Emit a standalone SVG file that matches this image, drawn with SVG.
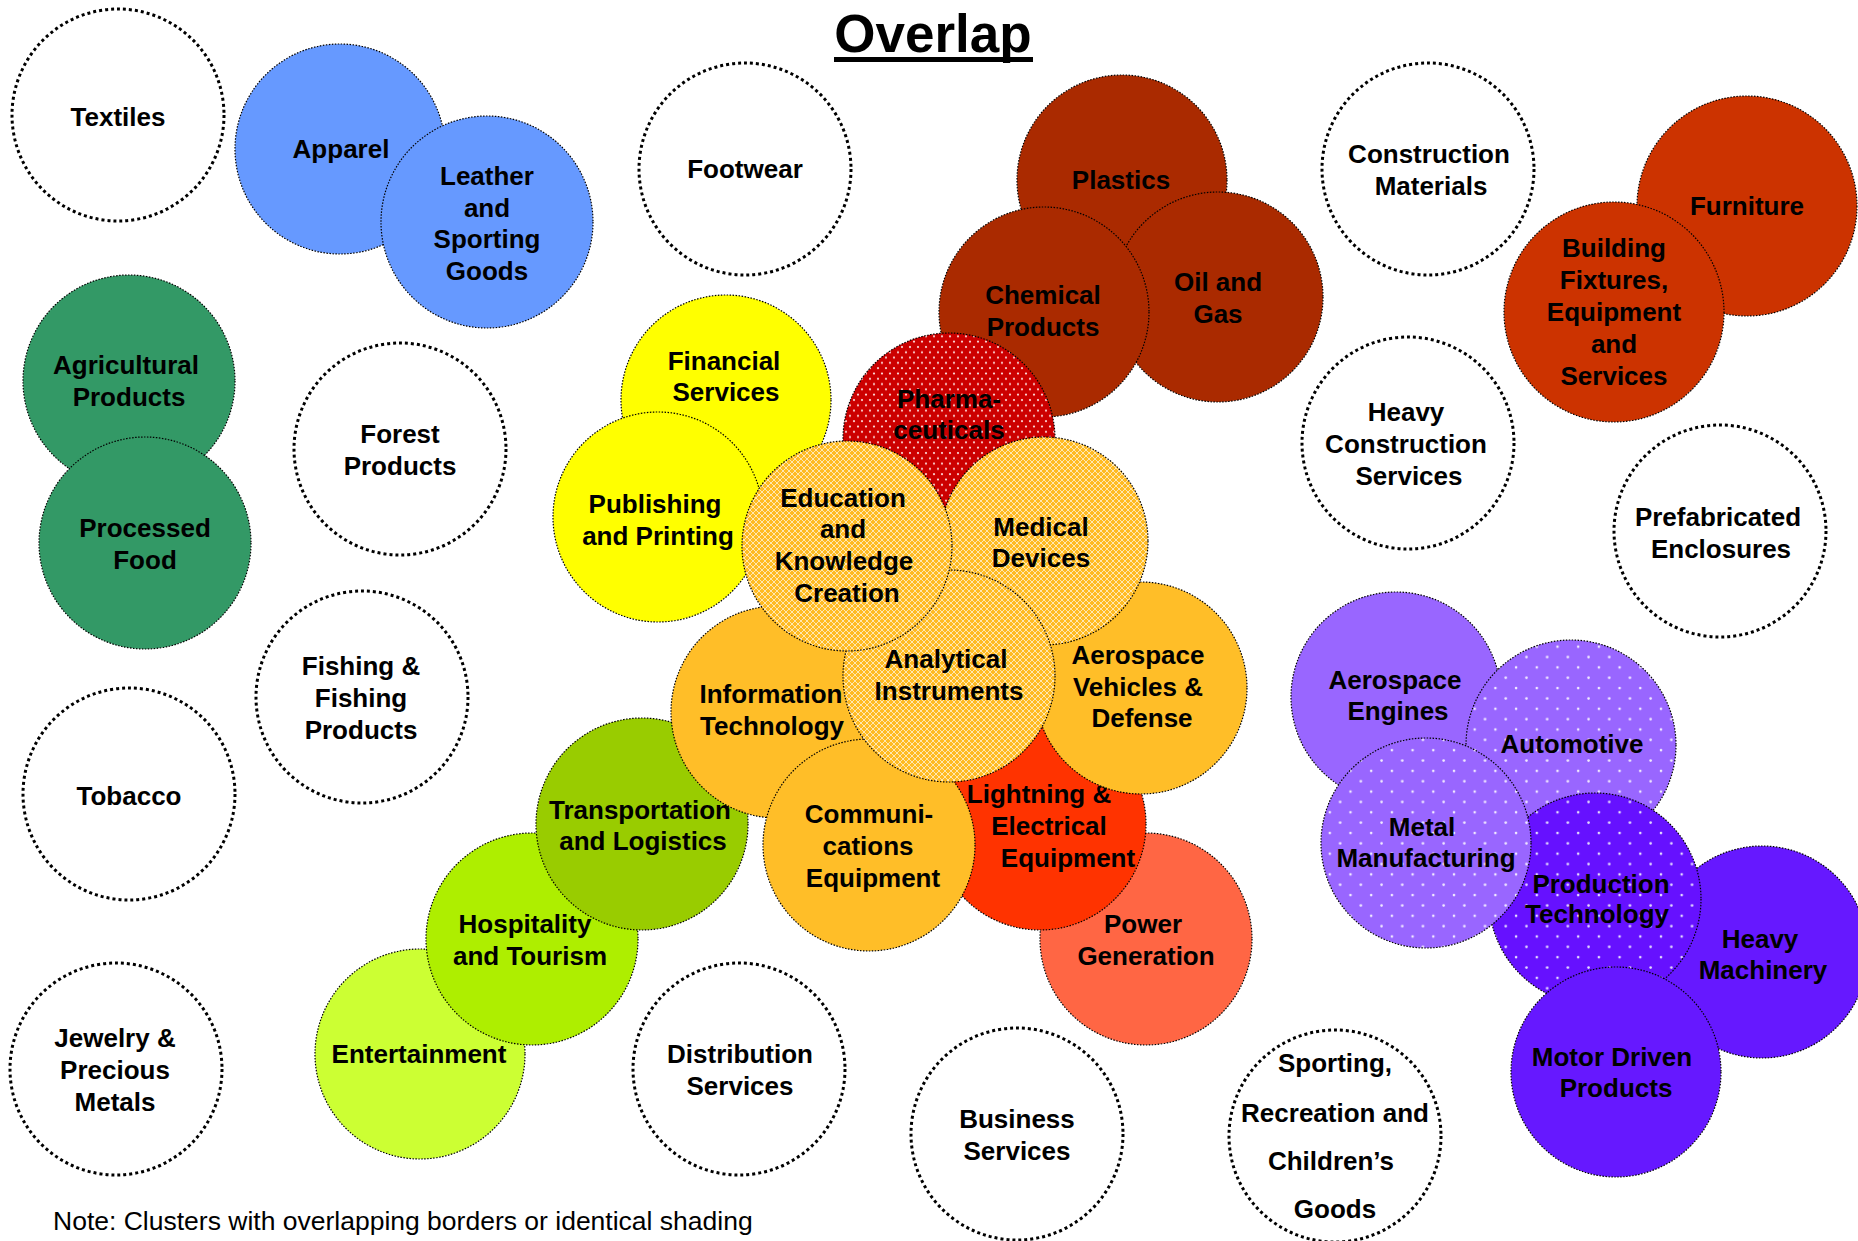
<svg xmlns="http://www.w3.org/2000/svg" width="1858" height="1241" viewBox="0 0 1858 1241">
<defs>
<style>
.e{fill:#fff;stroke:#000;stroke-width:3;stroke-dasharray:3 3}
.f{stroke:#000;stroke-width:1.2;stroke-dasharray:1.5 1.5}
.l{font-family:"Liberation Sans",Arial,sans-serif;font-weight:bold;font-size:26px;text-anchor:middle;fill:#000}
.blue{fill:#6699FF}.green{fill:#339966}.yellow{fill:#FFFF00}.brown{fill:#AA2A00}.rust{fill:#CC3300}
.amber{fill:#FFBE28}.red{fill:#FF3300}.salmon{fill:#FF6644}.olive{fill:#99CC00}.lime{fill:#AEEE00}.pale{fill:#CCFF33}
.lav{fill:#9966FF}.violet{fill:#6618FF}
</style>
<pattern id="pRed" width="8" height="10.6" patternUnits="userSpaceOnUse">
<rect width="8" height="10.6" fill="#CC0000"/>
<circle cx="2" cy="2.5" r="1.1" fill="#FFE0E0"/>
<circle cx="6" cy="7.8" r="1.1" fill="#FFE0E0"/>
</pattern>
<pattern id="pLav" width="20.7" height="20.7" patternUnits="userSpaceOnUse">
<rect width="20.7" height="20.7" fill="#9966FF"/>
<circle cx="5" cy="5" r="1.3" fill="#F2EAFF"/>
<circle cx="15.35" cy="15.35" r="1.3" fill="#F2EAFF"/>
</pattern>
<pattern id="pViolet" width="20.7" height="20.7" patternUnits="userSpaceOnUse">
<rect width="20.7" height="20.7" fill="#6611FF"/>
<circle cx="5" cy="5" r="1.3" fill="#E6DDFF"/>
<circle cx="15.35" cy="15.35" r="1.3" fill="#E6DDFF"/>
</pattern>
<pattern id="pLattice" width="6" height="6" patternUnits="userSpaceOnUse">
<rect width="6" height="6" fill="#FFBB22"/>
<path d="M0 0L6 6M6 0L0 6" stroke="#FFFFFF" stroke-width="1" stroke-opacity="0.65"/>
</pattern>
</defs>
<rect width="1858" height="1241" fill="#FFFFFF"/>

<g id="title">
<text x="933" y="52" style="font-family:'Liberation Sans',Arial,sans-serif;font-weight:bold;font-size:53px;text-anchor:middle">Overlap</text>
<rect x="834" y="57" width="199" height="5" fill="#000"/>
</g>

<g id="connectors"></g>

<g id="nodes">
<g id="node-textiles"><circle class="e" cx="118" cy="115" r="106"/><text class="l" x="118" y="126">Textiles</text></g>
<g id="node-forest"><circle class="e" cx="400" cy="449" r="106"/><text class="l"><tspan x="400" y="443">Forest</tspan><tspan x="400" y="475">Products</tspan></text></g>
<g id="node-fishing"><circle class="e" cx="362" cy="697" r="106"/><text class="l"><tspan x="361" y="675">Fishing &amp;</tspan><tspan x="361" y="707">Fishing</tspan><tspan x="361" y="739">Products</tspan></text></g>
<g id="node-tobacco"><circle class="e" cx="129" cy="794" r="106"/><text class="l" x="129" y="805">Tobacco</text></g>
<g id="node-jewelry"><circle class="e" cx="116" cy="1069" r="106"/><text class="l"><tspan x="115" y="1047">Jewelry &amp;</tspan><tspan x="115" y="1079">Precious</tspan><tspan x="115" y="1111">Metals</tspan></text></g>
<g id="node-footwear"><circle class="e" cx="745" cy="169" r="106"/><text class="l" x="745" y="178">Footwear</text></g>
<g id="node-construction"><circle class="e" cx="1428" cy="169" r="106"/><text class="l"><tspan x="1429" y="163">Construction</tspan><tspan x="1431" y="195">Materials</tspan></text></g>
<g id="node-heavy-construction"><circle class="e" cx="1408" cy="443" r="106"/><text class="l"><tspan x="1406" y="421">Heavy</tspan><tspan x="1406" y="453">Construction</tspan><tspan x="1409" y="485">Services</tspan></text></g>
<g id="node-prefab"><circle class="e" cx="1720" cy="531" r="106"/><text class="l"><tspan x="1718" y="526">Prefabricated</tspan><tspan x="1721" y="558">Enclosures</tspan></text></g>
<g id="node-distribution"><circle class="e" cx="739" cy="1069" r="106"/><text class="l"><tspan x="740" y="1063">Distribution</tspan><tspan x="740" y="1095">Services</tspan></text></g>
<g id="node-business"><circle class="e" cx="1017" cy="1134" r="106"/><text class="l"><tspan x="1017" y="1128">Business</tspan><tspan x="1017" y="1160">Services</tspan></text></g>
<g id="node-sporting"><circle class="e" cx="1335" cy="1136" r="106"/><text class="l"><tspan x="1335" y="1072">Sporting,</tspan><tspan x="1335" y="1122">Recreation and</tspan><tspan x="1331" y="1170">Children’s</tspan><tspan x="1335" y="1218">Goods</tspan></text></g>

<g id="node-apparel"><circle class="f blue" cx="340" cy="149" r="105"/><text class="l" x="341" y="158">Apparel</text></g>
<g id="node-leather"><circle class="f blue" cx="487" cy="222" r="106"/><text class="l"><tspan x="487" y="185">Leather</tspan><tspan x="487" y="217">and</tspan><tspan x="487" y="248">Sporting</tspan><tspan x="487" y="280">Goods</tspan></text></g>
<g id="node-agricultural"><circle class="f green" cx="129" cy="381" r="106"/><text class="l"><tspan x="126" y="374">Agricultural</tspan><tspan x="129" y="406">Products</tspan></text></g>
<g id="node-processed"><circle class="f green" cx="145" cy="543" r="106"/><text class="l"><tspan x="145" y="537">Processed</tspan><tspan x="145" y="569">Food</tspan></text></g>
<g id="node-financial"><circle class="f yellow" cx="726" cy="400" r="105"/><text class="l"><tspan x="724" y="370">Financial</tspan><tspan x="726" y="401">Services</tspan></text></g>
<g id="node-publishing"><circle class="f yellow" cx="658" cy="517" r="105"/><text class="l"><tspan x="655" y="513">Publishing</tspan><tspan x="658" y="545">and Printing</tspan></text></g>
<g id="node-plastics"><circle class="f brown" cx="1122" cy="180" r="105"/><text class="l" x="1121" y="189">Plastics</text></g>
<g id="node-oil"><circle class="f brown" cx="1218" cy="297" r="105"/><text class="l"><tspan x="1218" y="291">Oil and</tspan><tspan x="1218" y="323">Gas</tspan></text></g>
<g id="node-chemical"><circle class="f brown" cx="1044" cy="312" r="105"/><text class="l"><tspan x="1043" y="304">Chemical</tspan><tspan x="1043" y="336">Products</tspan></text></g>
<g id="node-furniture"><circle class="f rust" cx="1747" cy="206" r="110"/><text class="l" x="1747" y="215">Furniture</text></g>
<g id="node-building"><circle class="f rust" cx="1614" cy="312" r="110"/><text class="l"><tspan x="1614" y="257">Building</tspan><tspan x="1614" y="289">Fixtures,</tspan><tspan x="1614" y="321">Equipment</tspan><tspan x="1614" y="353">and</tspan><tspan x="1614" y="385">Services</tspan></text></g>
<g id="node-pharma"><circle class="f" fill="url(#pRed)" cx="949" cy="439" r="106"/><text class="l"><tspan x="949" y="408">Pharma-</tspan><tspan x="949" y="439">ceuticals</tspan></text></g>
<g id="node-power"><circle class="f salmon" cx="1146" cy="939" r="106"/><text class="l"><tspan x="1143" y="933">Power</tspan><tspan x="1146" y="965">Generation</tspan></text></g>
<g id="node-lightning"><circle class="f red" cx="1040" cy="824" r="106"/><text class="l"><tspan x="1039" y="803">Lightning &amp;</tspan><tspan x="1049" y="835">Electrical</tspan><tspan x="1068" y="867">Equipment</tspan></text></g>
<g id="node-aerospace-vehicles"><circle class="f amber" cx="1141" cy="688" r="106"/><text class="l"><tspan x="1138" y="664">Aerospace</tspan><tspan x="1138" y="696">Vehicles &amp;</tspan><tspan x="1142" y="727">Defense</tspan></text></g>
<g id="node-entertainment"><circle class="f pale" cx="420" cy="1054" r="105"/><text class="l" x="419" y="1063">Entertainment</text></g>
<g id="node-hospitality"><circle class="f lime" cx="532" cy="939" r="106"/><text class="l"><tspan x="525" y="933">Hospitality</tspan><tspan x="530" y="965">and Tourism</tspan></text></g>
<g id="node-transportation"><circle class="f olive" cx="642" cy="824" r="106"/><text class="l"><tspan x="640" y="819">Transportation</tspan><tspan x="643" y="850">and Logistics</tspan></text></g>
<g id="node-it"><circle class="f amber" cx="777" cy="712" r="106"/><text class="l"><tspan x="771" y="703">Information</tspan><tspan x="772" y="735">Technology</tspan></text></g>
<g id="node-communications"><circle class="f amber" cx="869" cy="845" r="106"/><text class="l"><tspan x="869" y="823">Communi-</tspan><tspan x="868" y="855">cations</tspan><tspan x="873" y="887">Equipment</tspan></text></g>
<g id="node-medical"><circle class="f" fill="url(#pLattice)" cx="1044" cy="541" r="104"/><text class="l"><tspan x="1041" y="536">Medical</tspan><tspan x="1041" y="567">Devices</tspan></text></g>
<g id="node-analytical"><circle class="f" fill="url(#pLattice)" cx="949" cy="676" r="106"/><text class="l"><tspan x="946" y="668">Analytical</tspan><tspan x="949" y="700">Instruments</tspan></text></g>
<g id="node-education"><circle class="f" fill="url(#pLattice)" cx="847" cy="546" r="105"/><text class="l"><tspan x="843" y="507">Education</tspan><tspan x="843" y="538">and</tspan><tspan x="844" y="570">Knowledge</tspan><tspan x="847" y="602">Creation</tspan></text></g>
<g id="node-aerospace-engines"><circle class="f lav" cx="1396" cy="697" r="105"/><text class="l"><tspan x="1395" y="689">Aerospace</tspan><tspan x="1398" y="720">Engines</tspan></text></g>
<g id="node-automotive"><circle class="f" fill="url(#pLav)" cx="1571" cy="745" r="105"/><text class="l" x="1572" y="753">Automotive</text></g>
<g id="node-heavy-machinery"><circle class="f violet" cx="1762" cy="952" r="106"/><text class="l"><tspan x="1760" y="948">Heavy</tspan><tspan x="1763" y="979">Machinery</tspan></text></g>
<g id="node-production"><circle class="f" fill="url(#pViolet)" cx="1595" cy="899" r="106"/><text class="l"><tspan x="1601" y="893">Production</tspan><tspan x="1597" y="923">Technology</tspan></text></g>
<g id="node-metal"><circle class="f" fill="url(#pLav)" cx="1426" cy="843" r="105"/><text class="l"><tspan x="1422" y="836">Metal</tspan><tspan x="1426" y="867">Manufacturing</tspan></text></g>
<g id="node-motor"><circle class="f violet" cx="1616" cy="1072" r="105"/><text class="l"><tspan x="1612" y="1066">Motor Driven</tspan><tspan x="1616" y="1097">Products</tspan></text></g>
</g>

<g id="note"><text x="53" y="1230" style="font-family:'Liberation Sans',Arial,sans-serif;font-size:26.5px;fill:#000">Note: Clusters with overlapping borders or identical shading</text></g>
</svg>
